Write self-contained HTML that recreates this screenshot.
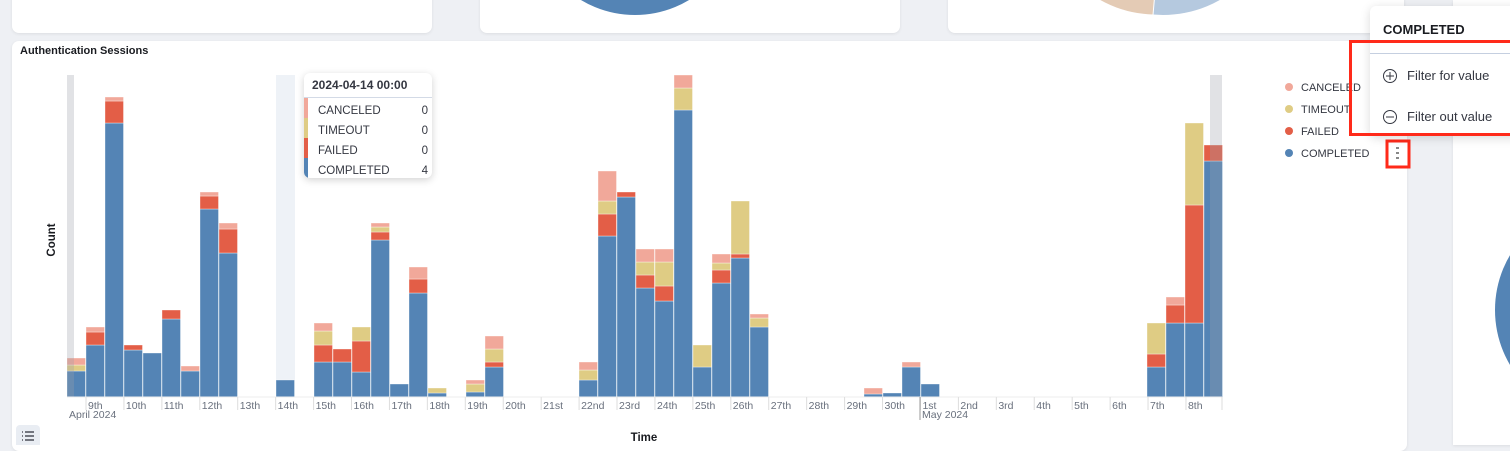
<!DOCTYPE html>
<html><head><meta charset="utf-8"><style>
html,body{margin:0;padding:0;width:1510px;height:445px;overflow:hidden;background:#eef0f4;font-family:"Liberation Sans",Arial,sans-serif;}
.p{position:absolute;background:#fff;border-radius:7px;box-shadow:0 1px 3px rgba(0,0,0,.08);}
</style></head><body>
<div class="p" style="left:12px;top:-10px;width:420px;height:43px;"></div>
<div class="p" style="left:480px;top:-10px;width:420px;height:43px;overflow:hidden;">
<svg width="420" height="43" style="position:absolute;left:0;top:0"><circle cx="155" cy="-80" r="105" fill="#5484b5"/><path d="M155,-80 L243,-7 A105,105 0 0 1 224,8 Z" fill="#d5813f" stroke="#fff"/><path d="M155,-80 L263,-13 A105,105 0 0 1 248,-3 Z" fill="#e3b08a" stroke="#fff"/></svg></div>
<div class="p" style="left:948px;top:-10px;width:456px;height:43px;overflow:hidden;">
<svg width="456" height="43" style="position:absolute;left:0;top:0"><circle cx="215" cy="-90" r="115" fill="#b5c9df"/><path d="M215,-90 L205,25 A115,115 0 0 1 110,-30 Z" fill="#e4cbb5" stroke="#fff"/></svg></div>
<div class="p" style="left:1453px;top:0px;width:70px;height:445px;overflow:hidden;border-radius:0;">
<svg width="70" height="445"><circle cx="150" cy="310" r="108" fill="#5484b5"/></svg></div>
<div class="p" style="left:12px;top:41px;width:1395px;height:410px;"></div>
<div style="position:absolute;left:20px;top:45px;font-size:11px;font-weight:bold;color:#1a1c21;">Authentication Sessions</div>
<svg width="1510" height="445" style="position:absolute;left:0;top:0" font-family="Liberation Sans, Arial, sans-serif">
<rect x="276" y="75" width="19" height="322" fill="#eef2f7"/>
<g id="bars"></g>
<line x1="67" y1="397" x2="1222" y2="397" stroke="#eee"/>
<g fill="#69707d" font-size="10.5" id="ticks"></g>
<text x="69" y="418" font-size="10.5" fill="#69707d">April 2024</text>
<line x1="920" y1="397" x2="920" y2="420" stroke="#999"/>
<text x="922" y="418" font-size="10.5" fill="#69707d">May 2024</text>
<text x="644" y="441" font-size="11.5" font-weight="bold" fill="#1a1c21" text-anchor="middle">Time</text>
<text transform="translate(55,240) rotate(-90)" font-size="11.5" font-weight="bold" fill="#1a1c21" text-anchor="middle">Count</text>
<rect x="16" y="425" width="24" height="24" rx="4" fill="#e9edf3"/>
<g stroke="#343741" stroke-width="1.3"><line x1="25" y1="432" x2="34" y2="432"/><line x1="25" y1="436" x2="34" y2="436"/><line x1="25" y1="440" x2="34" y2="440"/><line x1="22" y1="432" x2="23" y2="432"/><line x1="22" y1="436" x2="23" y2="436"/><line x1="22" y1="440" x2="23" y2="440"/></g>
<g font-size="11" fill="#343741">
<circle cx="1289" cy="87" r="4" fill="#f1a89a"/><text x="1301" y="91">CANCELED</text>
<circle cx="1289" cy="109" r="4" fill="#dfcc84"/><text x="1301" y="113">TIMEOUT</text>
<circle cx="1289" cy="131" r="4" fill="#e35e47"/><text x="1301" y="135">FAILED</text>
<circle cx="1289" cy="153" r="4" fill="#5484b5"/><text x="1301" y="157">COMPLETED</text>
</g>
<rect x="1387" y="141" width="22" height="26" fill="#fff" stroke="#ff2a1a" stroke-width="3"/>
<g fill="#888"><rect x="1396" y="147" width="3" height="2"/><rect x="1396" y="152" width="3" height="2"/><rect x="1396" y="157" width="3" height="2"/></g>
</svg>
<div style="position:absolute;left:304px;top:73px;width:128px;height:105px;background:#fff;border-radius:6px;box-shadow:0 2px 8px rgba(0,0,0,.18);overflow:hidden;font-size:11.5px;color:#343741;">
<div style="height:24px;line-height:24px;font-weight:bold;padding-left:8px;border-bottom:1px solid #d3dae6;font-size:12px;">2024-04-14 00:00</div>
<div style="position:absolute;left:0;top:25px;width:4px;height:20px;background:#f1a89a"></div>
<div style="position:absolute;left:0;top:45px;width:4px;height:20px;background:#dfcc84"></div>
<div style="position:absolute;left:0;top:65px;width:4px;height:20px;background:#e35e47"></div>
<div style="position:absolute;left:0;top:85px;width:4px;height:20px;background:#5484b5"></div>
<div style="position:absolute;left:14px;top:28px;line-height:20px;">CANCELED<br>TIMEOUT<br>FAILED<br>COMPLETED</div>
<div style="position:absolute;right:4px;top:28px;line-height:20px;text-align:right;">0<br>0<br>0<br>4</div>
</div>
<div style="position:absolute;left:1370px;top:6px;width:150px;height:130px;background:#fff;border-radius:6px;box-shadow:0 2px 10px rgba(0,0,0,.15);">
<div style="position:absolute;left:13px;top:16px;font-size:13px;font-weight:bold;color:#1a1c21;">COMPLETED</div>
<div style="position:absolute;left:0;top:47px;width:150px;border-top:1px solid #c5cfe0;"></div>
</div>
<div style="position:absolute;left:1349px;top:40px;width:170px;height:96px;border:3px solid #ff2a1a;box-sizing:border-box;"></div>
<svg width="20" height="100" style="position:absolute;left:1382px;top:66px"><circle cx="8" cy="10" r="6.5" fill="none" stroke="#343741"/><line x1="4" y1="10" x2="12" y2="10" stroke="#343741"/><line x1="8" y1="6" x2="8" y2="14" stroke="#343741"/><circle cx="8" cy="51" r="6.5" fill="none" stroke="#343741"/><line x1="4" y1="51" x2="12" y2="51" stroke="#343741"/></svg>
<div style="position:absolute;left:1407px;top:68px;font-size:13px;color:#343741;">Filter for value</div>
<div style="position:absolute;left:1407px;top:109px;font-size:13px;color:#343741;">Filter out value</div>
<script>
var B=[[67,371,371,365,358],[86,345,332,332,327],[105,123,101,101,97],[124,350,345,345,345],[143,353,353,353,353],[162,319,310,310,310],[181,371,371,371,366],[200,209,196,196,192],[219,253,229,229,223],[276,380,380,380,380],[314,362,345,331,323],[333,362,349,349,349],[352,372,341,327,327],[371,240,232,227,223],[390,384,384,384,384],[409,293,279,279,267],[428,393,393,388,388],[466,392,392,384,380],[485,367,362,349,336],[579,380,380,370,362],[598,236,214,201,171],[617,197,192,192,192],[636,288,275,262,249],[655,301,286,262,249],[674,110,110,88,75],[693,367,367,345,345],[712,283,270,263,254],[731,258,254,201,201],[750,327,327,318,314],[864,394,394,394,388],[883,393,393,393,393],[902,367,367,367,362],[921,384,384,384,384],[1147,367,354,323,323],[1166,323,305,305,297],[1185,323,205,123,123],[1204,161,145,145,145]];
var C=["#5484b5","#e35e47","#dfcc84","#f1a89a"],s="";
B.forEach(function(b){var prev=397;for(var i=0;i<4;i++){var t=b[i+1];if(prev-t>0)s+='<rect x="'+b[0]+'" y="'+t+'" width="18.5" height="'+(prev-t)+'" fill="'+C[i]+'" stroke="#fff" stroke-width="0.6" stroke-opacity="0.6"/>';prev=t;}});
s+='<rect x="67" y="75" width="7" height="322" fill="#9aa0aa" opacity="0.3"/><rect x="1210" y="75" width="12" height="322" fill="#9aa0aa" opacity="0.3"/>';
document.getElementById('bars').innerHTML=s;
var L=["9th","10th","11th","12th","13th","14th","15th","16th","17th","18th","19th","20th","21st","22nd","23rd","24th","25th","26th","27th","28th","29th","30th","1st","2nd","3rd","4th","5th","6th","7th","8th"],t="";
L.forEach(function(l,i){var x=86+i*37.93;t+='<line x1="'+x+'" y1="397" x2="'+x+'" y2="410" stroke="#ddd"/><text x="'+(x+2)+'" y="409">'+l+'</text>';});
t+='<line x1="1222" y1="397" x2="1222" y2="410" stroke="#ddd"/>';
document.getElementById('ticks').innerHTML=t;
</script>
</body></html>
